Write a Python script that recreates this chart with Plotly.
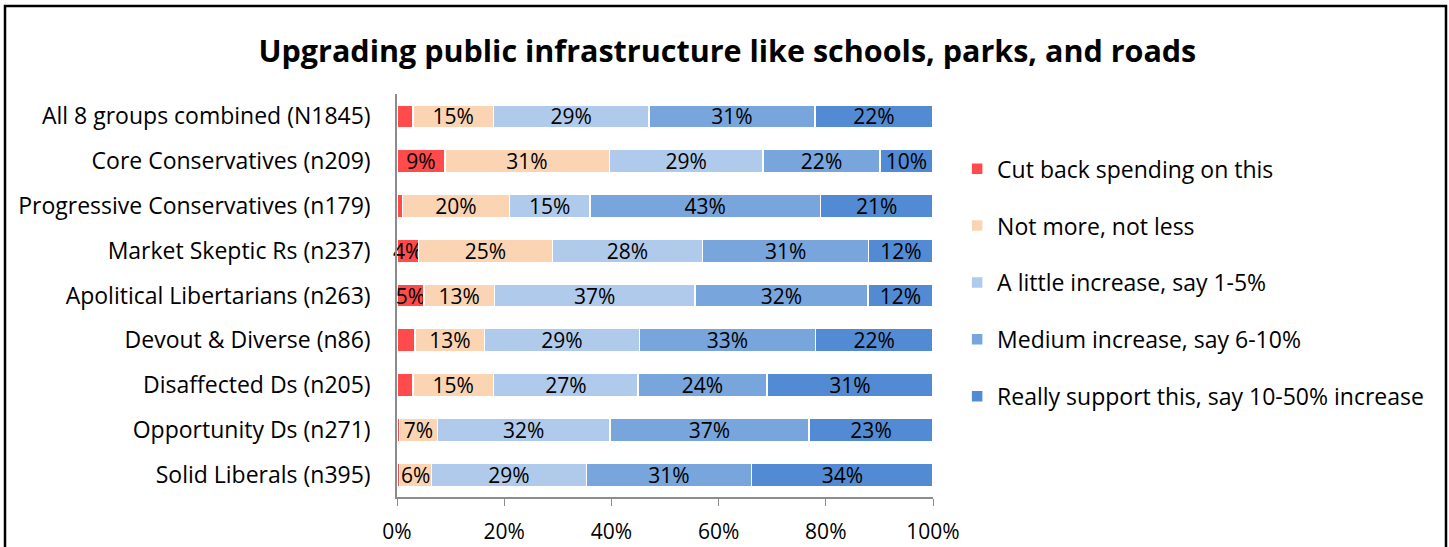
import plotly.graph_objects as go

groups = [
    "All 8 groups combined (N1845)",
    "Core Conservatives (n209)",
    "Progressive Conservatives (n179)",
    "Market Skeptic Rs (n237)",
    "Apolitical Libertarians (n263)",
    "Devout & Diverse (n86)",
    "Disaffected Ds (n205)",
    "Opportunity Ds (n271)",
    "Solid Liberals (n395)",
]
series_names = [
    "Cut back spending on this",
    "Not more, not less",
    "A little increase, say 1-5%",
    "Medium increase, say 6-10%",
    "Really support this, say 10-50% increase",
]
cut_back = [3, 9, 1, 4, 5, 3.4, 3, 0.5, 0.5]
not_more = [15, 31, 20, 25, 13, 13, 15, 7, 6]
little = [29, 29, 15, 28, 37, 29, 27, 32, 29]
medium = [31, 22, 43, 31, 32, 33, 24, 37, 31]
really = [22, 10, 21, 12, 12, 22, 31, 23, 34]
series_values = [cut_back, not_more, little, medium, really]
colors = ["#FF4B4B", "#FBD4B4", "#B0CAEB", "#77A5DC", "#528BD3"]
x_ticks = [0, 20, 40, 60, 80, 100]

FONT = "Open Sans"

fig = go.Figure()
for i, (name, vals, col) in enumerate(zip(series_names, series_values, colors)):
    fig.add_trace(go.Bar(
        y=groups,
        x=vals,
        name=name,
        orientation="h",
        marker=dict(color=col, line=dict(color="white", width=1.5)),
        text=[f"{v:.0f}%" if v >= 4 else "" for v in vals],
        textposition="inside",
        insidetextanchor="middle",
        textangle=0,
        textfont=dict(color="black", size=21, family=FONT),
        legendgroup=str(i),
        cliponaxis=False,
    ))

fig.update_layout(
    barmode="stack",
    barnorm="percent",
    bargap=0.48,
    width=1449,
    height=547,
    margin=dict(l=397, r=516, t=94, b=50, autoexpand=False),
    paper_bgcolor="white",
    plot_bgcolor="white",
    font=dict(family=FONT, color="black", size=21),
    uniformtext=dict(minsize=21, mode="show"),
    title=dict(
        text="<b>Upgrading public infrastructure like schools, parks, and roads</b>",
        x=0.502, xanchor="center", xref="container",
        y=0.907, yanchor="middle", yref="container",
        font=dict(size=30.5, family=FONT, color="black"),
    ),
    legend=dict(
        x=1.045, xanchor="left",
        y=0.868, yanchor="top",
        traceorder="grouped",
        tracegroupgap=24,
        font=dict(size=23, family=FONT),
        itemwidth=30,
    ),
    xaxis=dict(
        range=[0, 100.0001],
        tickvals=x_ticks,
        ticktext=[f"{t}%" for t in x_ticks],
        showgrid=False,
        zeroline=False,
        showline=True,
        linecolor="#8C8C8C",
        linewidth=1.5,
        ticks="outside",
        ticklen=7,
        tickcolor="#8C8C8C",
        tickfont=dict(size=21, family=FONT),
        ticklabelstandoff=8,
        automargin=False,
    ),
    yaxis=dict(
        categoryorder="array",
        categoryarray=groups[::-1],
        showgrid=False,
        zeroline=False,
        showline=True,
        linecolor="#8C8C8C",
        linewidth=1.5,
        ticks="",
        tickfont=dict(size=23, family=FONT),
        ticklabelstandoff=20,
        automargin=False,
    ),
    shapes=[
        dict(type="rect", xref="paper", yref="paper",
             x0=-392 / 536, x1=(1446 - 397) / 536,
             y0=-0.2, y1=(497 - 6) / 403,
             line=dict(color="black", width=2.5), fillcolor="rgba(0,0,0,0)",
             layer="below"),
    ],
)

fig.write_html(
    "out.html",
    config={"displayModeBar": False},
    post_script="document.body.style.margin='0';document.body.style.overflow='hidden';",
)
